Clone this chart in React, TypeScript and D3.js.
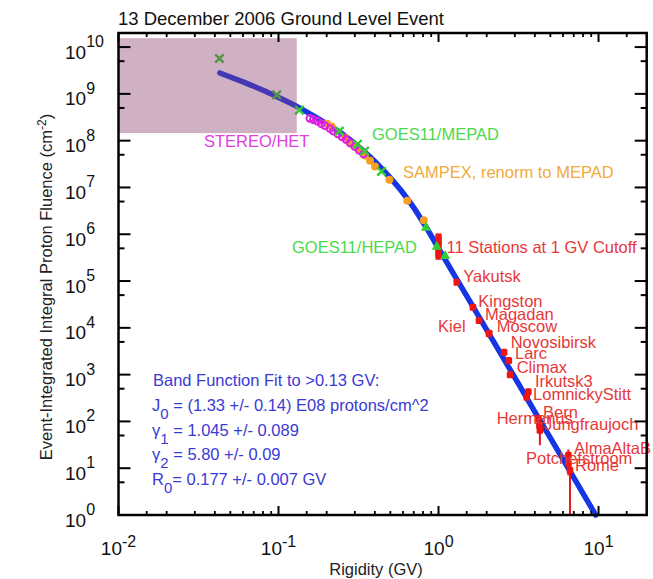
import React from 'react';
import * as d3 from 'd3';

const W = 653;
const H = 579;

// ---- axes ----
const xDomain = [0.01, 20];
const yDomain = [1, 2e10];
const xMajorTicks = [0.01, 0.1, 1, 10];
const xTickExps = ['-2', '-1', '0', '1'];
const yMajorTicks = [1, 10, 1e2, 1e3, 1e4, 1e5, 1e6, 1e7, 1e8, 1e9, 1e10];
const yTickExps = ['0', '1', '2', '3', '4', '5', '6', '7', '8', '9', '10'];
const xMinorMult = [1.5, 2, 3, 4, 5, 6, 7, 8, 9];
const yMinorMult = [5];

// ---- excluded (unfit) region ----
const shadeR = [0.01, 0.13];
const shadeF = [1.45e8, 1.55e10];

// ---- Band function fit curve ----
const fitR = [0.043, 0.05, 0.06, 0.07, 0.08, 0.1, 0.13, 0.17, 0.2, 0.25, 0.3, 0.35, 0.4, 0.5, 0.6, 0.7, 0.8, 0.9, 1.0, 1.5, 2, 3, 4, 6, 9.6];
const fitF = [2.8e9, 2.3e9, 1.8e9, 1.45e9, 1.2e9, 8.4e8, 5.4e8, 3.2e8, 2.3e8, 1.4e8, 8.6e7, 5.5e7, 3.6e7, 1.6e7, 7.6e6, 3.7e6, 1.8e6, 9.3e5, 5.0e5, 4.8e4, 9.0e3, 860, 160, 15.5, 1.0];

// ---- GOES11/MEPAD (green x) ----
const mepadR = [0.0427, 0.0975, 0.135, 0.24, 0.312, 0.345, 0.44];
const mepadF = [5.7e9, 9.5e8, 4.5e8, 1.6e8, 8.4e7, 6.0e7, 2.2e7];

// ---- GOES11/HEPAD (green triangles) ----
const hepadR = [0.835, 0.975, 1.1];
const hepadF = [1.45e6, 5.7e5, 3.6e5];

// ---- STEREO/HET (magenta open circles) ----
const stereoR = [0.157, 0.165, 0.175, 0.185, 0.195, 0.21, 0.22, 0.235, 0.25, 0.265, 0.28, 0.3, 0.32, 0.34];
const stereoF = [3.0e8, 2.8e8, 2.6e8, 2.3e8, 2.1e8, 1.8e8, 1.6e8, 1.4e8, 1.2e8, 1.05e8, 9e7, 7.5e7, 6.2e7, 5.2e7];

// ---- SAMPEX renorm (orange dots) ----
const sampexR = [0.201, 0.215, 0.261, 0.288, 0.314, 0.347, 0.373, 0.401, 0.493, 0.638, 0.81];
const sampexF = [2.3e8, 2.0e8, 1.15e8, 8.5e7, 6.7e7, 4.8e7, 3.7e7, 2.8e7, 1.46e7, 5.2e6, 2.0e6];

// ---- 11 stations at 1 GV cutoff ----
const clusterR = [1.0, 1.0, 1.0, 1.0, 1.0, 1.0, 1.0, 1.0, 1.0, 1.0, 1.0];
const clusterF = [9.0e5, 8.2e5, 7.4e5, 6.7e5, 6.0e5, 5.4e5, 4.9e5, 4.4e5, 4.0e5, 3.6e5, 3.3e5];

// ---- named neutron monitor stations ----
const stationNames = ['Yakutsk', 'Kingston', 'Magadan', 'Kiel', 'Moscow', 'Novosibirsk', 'Larc', 'Climax', 'Irkutsk3', 'LomnickyStitt', 'Bern', 'Hermanus', 'Jungfraujoch', 'AlmaAltaB', 'Potchefstroom', 'Rome'];
const stationR = [1.30, 1.64, 1.79, 2.07, 2.07, 2.57, 2.75, 2.80, 3.64, 3.56, 4.20, 4.27, 4.30, 6.48, 6.48, 6.63];
const stationF = [9.4e4, 2.77e4, 1.43e4, 7.5e3, 7.7e3, 3.0e3, 2.0e3, 1.0e3, 430, 330, 115, 83, 65, 19, 12.6, 9.1];
const stationLo = [9.4e4, 2.77e4, 1.43e4, 7.5e3, 7.7e3, 3.0e3, 2.0e3, 1.0e3, 360, 280, 80, 55, 31, 12, 7, 0.5];
const stationHi = [9.4e4, 2.77e4, 1.43e4, 7.5e3, 7.7e3, 3.0e3, 2.0e3, 1.0e3, 500, 380, 140, 110, 95, 25, 20, 15];

// label offsets (layout, px) relative to each station marker
const stationLabelOffset: [number, number][] = [
  [6.6, -0.6], [5.4, -0.4], [6, -0.6], [-51, -2], [7.6, -1.5], [6.6, -4], [6.2, -1.2], [6.6, -1.3],
  [6.7, -5], [6.3, 2.8], [4.8, -0.3], [-42.7, -1.2], [4.1, 0], [5.6, -1.2], [-42.4, 0], [5, 0.6],
];

// ---- texts ----
const titleText = '13 December 2006 Ground Level Event';
const xLabel = 'Rigidity (GV)';
const yLabel = 'Event-Integrated Integral Proton Fluence (cm';
const fitTitle = 'Band Function Fit to >0.13 GV:';
const fitLines = [
  { sym: 'J', sub: '0', rest: ' = (1.33 +/- 0.14) E08 protons/cm^2' },
  { sym: '\u03b3', sub: '1', rest: ' = 1.045 +/- 0.089' },
  { sym: '\u03b3', sub: '2', rest: ' = 5.80 +/- 0.09' },
  { sym: 'R', sub: '0', rest: '= 0.177 +/- 0.007 GV' },
];
const annotations = [
  { text: 'STEREO/HET', color: '#e03ee0', x: 204, y: 147, anchor: 'start' },
  { text: 'GOES11/MEPAD', color: '#4cd94c', x: 372, y: 140, anchor: 'start' },
  { text: 'SAMPEX, renorm to MEPAD', color: '#f2aa3c', x: 403, y: 177.5, anchor: 'start' },
  { text: 'GOES11/HEPAD', color: '#4cd94c', x: 417, y: 252.5, anchor: 'end' },
  { text: '11 Stations at 1 GV Cutoff', color: '#e63838', x: 446.5, y: 252.5, anchor: 'start' },
];

const FONT = "'Liberation Sans', Arial, Helvetica, sans-serif";
const BLUE_LINE = '#1636e6';
const GREEN = '#33cc33';
const ORANGE = '#f5a020';
const MAGENTA = '#e020e0';
const RED = '#ee1515';
const RED_TEXT = '#e63838';
const BLUE_TEXT = '#3a3ad6';

export default function App() {
  const left = 118.5, right = 646.7, top = 33, bottom = 515;
  const x = d3.scaleLog().domain(xDomain).range([left, right]);
  const y = d3.scaleLog().domain(yDomain).range([bottom, top]);

  const fitPts: [number, number][] = fitR.map((r, i) => [x(r), y(fitF[i])]);
  const linePath = d3.line().curve(d3.curveMonotoneX)(fitPts) || '';

  const xMinor: number[] = [];
  xMajorTicks.forEach((d) => xMinorMult.forEach((m) => { const v = d * m; if (v < xDomain[1]) xMinor.push(v); }));
  const yMinor: number[] = [];
  yMajorTicks.forEach((d) => yMinorMult.forEach((m) => { const v = d * m; if (v < yDomain[1]) yMinor.push(v); }));

  const clampY = (v: number) => Math.max(top, Math.min(bottom, y(Math.max(v, 1e-3))));

  const xSize = 4.2;
  const triPath = (cx: number, cy: number) => {
    const s = 5;
    return `M${cx},${cy - s}L${cx + s},${cy + s * 0.8}L${cx - s},${cy + s * 0.8}Z`;
  };

  return (
    <svg width={W} height={H} style={{ position: 'absolute', left: 0, top: 0, background: '#fff' }} fontFamily={FONT}>
      <rect x={0} y={0} width={W} height={H} fill="#fff" />
      {/* title */}
      <text x={118} y={25} fontSize={18.5} fill="#111">{titleText}</text>

      {/* fit curve */}
      <path d={linePath} fill="none" stroke={BLUE_LINE} strokeWidth={5.5} strokeLinecap="round" strokeLinejoin="round" />

      {/* SAMPEX */}
      {sampexR.map((r, i) => (
        <circle key={'s' + i} cx={x(r)} cy={y(sampexF[i])} r={4} fill={ORANGE} />
      ))}
      {/* STEREO */}
      {stereoR.map((r, i) => (
        <circle key={'st' + i} cx={x(r)} cy={y(stereoF[i])} r={3.4} fill="none" stroke={MAGENTA} strokeWidth={2} />
      ))}
      {/* MEPAD */}
      {mepadR.map((r, i) => {
        const cx = x(r), cy = y(mepadF[i]);
        return (
          <path key={'m' + i} d={`M${cx - xSize},${cy - xSize}L${cx + xSize},${cy + xSize}M${cx - xSize},${cy + xSize}L${cx + xSize},${cy - xSize}`}
            stroke={GREEN} strokeWidth={2.4} fill="none" />
        );
      })}
      {/* 1 GV cluster */}
      {clusterR.map((r, i) => (
        <rect key={'c' + i} x={x(r) - 3} y={y(clusterF[i]) - 3} width={6} height={6} fill={RED} />
      ))}
      {/* named stations: error bars + markers */}
      {stationR.map((r, i) => (
        <line key={'e' + i} x1={x(r)} x2={x(r)} y1={clampY(stationLo[i])} y2={clampY(stationHi[i])} stroke={RED} strokeWidth={2} />
      ))}
      {stationR.map((r, i) => (
        <rect key={'sm' + i} x={x(r) - 3.3} y={y(stationF[i]) - 3.5} width={6.6} height={7} rx={1.5} fill={RED} />
      ))}
      {/* HEPAD */}
      {hepadR.map((r, i) => (
        <path key={'h' + i} d={triPath(x(r), y(hepadF[i]))} fill={GREEN} />
      ))}

      {/* excluded region shade */}
      <rect x={x(shadeR[0])} y={y(shadeF[1])} width={x(shadeR[1]) - x(shadeR[0])} height={y(shadeF[0]) - y(shadeF[1])}
        fill="#8a3c6c" fillOpacity={0.4} />

      {/* station labels */}
      {stationNames.map((n, i) => (
        <text key={'l' + i} x={x(stationR[i]) + stationLabelOffset[i][0]} y={y(stationF[i]) + stationLabelOffset[i][1]}
          fontSize={16.5} fill={RED_TEXT}>{n}</text>
      ))}

      {/* annotations */}
      {annotations.map((a, i) => (
        <text key={'a' + i} x={a.x} y={a.y} fontSize={16.5} fill={a.color} textAnchor={a.anchor as any}>{a.text}</text>
      ))}

      {/* fit parameters */}
      <g fill={BLUE_TEXT} fontSize={16.5}>
        <text x={153} y={386}>{fitTitle}</text>
        {fitLines.map((l, i) => (
          <text key={'f' + i} x={152} y={411 + i * 24.6}>
            {l.sym}
            <tspan dy={8} fontSize={15}>{l.sub}</tspan>
            <tspan dy={-8}>{l.rest}</tspan>
          </text>
        ))}
      </g>

      {/* frame */}
      <rect x={left} y={top} width={right - left} height={bottom - top} fill="none" stroke="#000" strokeWidth={2.5} />

      {/* x ticks */}
      {xMajorTicks.map((t, i) => (
        <g key={'xt' + i}>
          <line x1={x(t)} x2={x(t)} y1={bottom} y2={bottom - 9} stroke="#000" strokeWidth={2} />
          <line x1={x(t)} x2={x(t)} y1={top} y2={top + 9} stroke="#000" strokeWidth={2} />
          <text x={x(t)} y={555} fontSize={19} fill="#111" textAnchor="middle">
            10<tspan dy={-8} fontSize={16}>{xTickExps[i]}</tspan>
          </text>
        </g>
      ))}
      {xMinor.map((t, i) => (
        <g key={'xm' + i}>
          <line x1={x(t)} x2={x(t)} y1={bottom} y2={bottom - 4} stroke="#000" strokeWidth={1.8} />
          <line x1={x(t)} x2={x(t)} y1={top} y2={top + 4} stroke="#000" strokeWidth={1.8} />
        </g>
      ))}
      {/* y ticks */}
      {yMajorTicks.map((t, i) => (
        <g key={'yt' + i}>
          <line x1={left} x2={left + 12} y1={y(t)} y2={y(t)} stroke="#000" strokeWidth={2} />
          <line x1={right} x2={right - 12} y1={y(t)} y2={y(t)} stroke="#000" strokeWidth={2} />
          <text x={65} y={y(t) + 11.5} fontSize={19} fill="#111">
            10<tspan dy={-11.5} fontSize={16}>{yTickExps[i]}</tspan>
          </text>
        </g>
      ))}
      {yMinor.map((t, i) => (
        <g key={'ym' + i}>
          <line x1={left} x2={left + 6} y1={y(t)} y2={y(t)} stroke="#000" strokeWidth={2} />
          <line x1={right} x2={right - 6} y1={y(t)} y2={y(t)} stroke="#000" strokeWidth={2} />
        </g>
      ))}

      {/* axis titles */}
      <text x={376} y={575} fontSize={16.5} fill="#222" textAnchor="middle">{xLabel}</text>
      <text transform="translate(51.5,287) rotate(-90)" fontSize={16.5} fill="#222" textAnchor="middle">
        {yLabel}
        <tspan dy={-6} fontSize={12}>-2</tspan>
        <tspan dy={6}>)</tspan>
      </text>
    </svg>
  );
}
